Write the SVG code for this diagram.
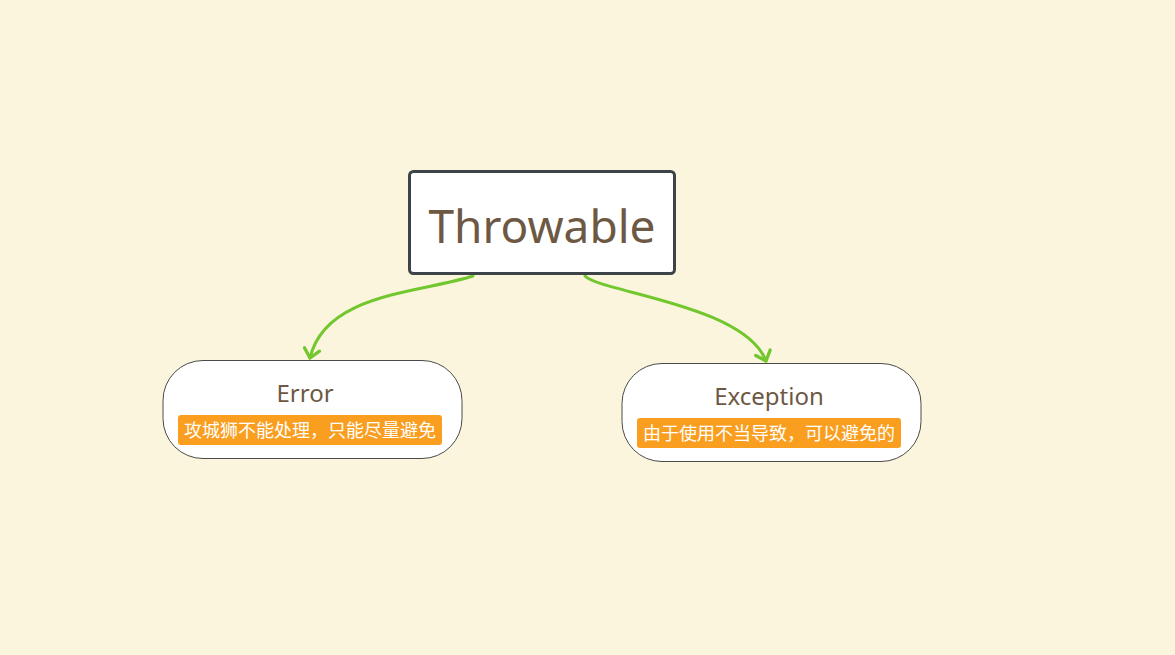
<svg xmlns="http://www.w3.org/2000/svg" width="1175" height="655" viewBox="0 0 1175 655">
<style>
.bg{fill:#fbf5dd}
.root{fill:#ffffff;stroke:#3d4449;stroke-width:3}
.sub{fill:#ffffff;stroke:#4a4a4a;stroke-width:1}
.title{font-family:"Noto Sans","Noto Sans CJK SC",sans-serif;fill:#6d5843;text-anchor:middle}
.tag{fill:#fa9e20}
.tagtxt{font-family:"Noto Sans CJK SC","Noto Sans",sans-serif;fill:#ffffff;font-size:18px;text-anchor:middle}
.conn{fill:none;stroke:#72c72e;stroke-width:3;stroke-linecap:round;stroke-linejoin:round}
</style>
<defs>
<marker id="arr" viewBox="0 0 20 20" refX="10" refY="10" markerWidth="22" markerHeight="22" markerUnits="userSpaceOnUse" orient="auto">
<path d="M2,3 L10,10 L2,17" fill="none" stroke="#72c72e" stroke-width="3" stroke-linecap="round" stroke-linejoin="round"/>
</marker>
</defs>
<rect class="bg" x="0" y="0" width="1175" height="655"/>
<g id="connectors">
<path class="conn" d="M473,276 C420,293 325,293 310,358" marker-end="url(#arr)"/>
<path class="conn" d="M585,276 C600,292 745,305 766,361" marker-end="url(#arr)"/>
</g>
<g id="throwable">
<rect class="root" x="409.5" y="171.5" width="265" height="102" rx="4"/>
<text class="title" x="542" y="243" font-size="46">Throwable</text>
</g>
<g id="error">
<rect class="sub" x="163" y="360.5" width="299" height="98" rx="40"/>
<text class="title" x="305" y="402" font-size="24">Error</text>
<rect class="tag" x="178" y="415" width="264" height="30" rx="3"/>
<text class="tagtxt" x="310" y="437">攻城狮不能处理，只能尽量避免</text>
</g>
<g id="exception">
<rect class="sub" x="622" y="363.5" width="299" height="98" rx="40"/>
<text class="title" x="769" y="405" font-size="24">Exception</text>
<rect class="tag" x="637" y="418" width="264" height="30" rx="3"/>
<text class="tagtxt" x="769" y="440">由于使用不当导致，可以避免的</text>
</g>
</svg>
